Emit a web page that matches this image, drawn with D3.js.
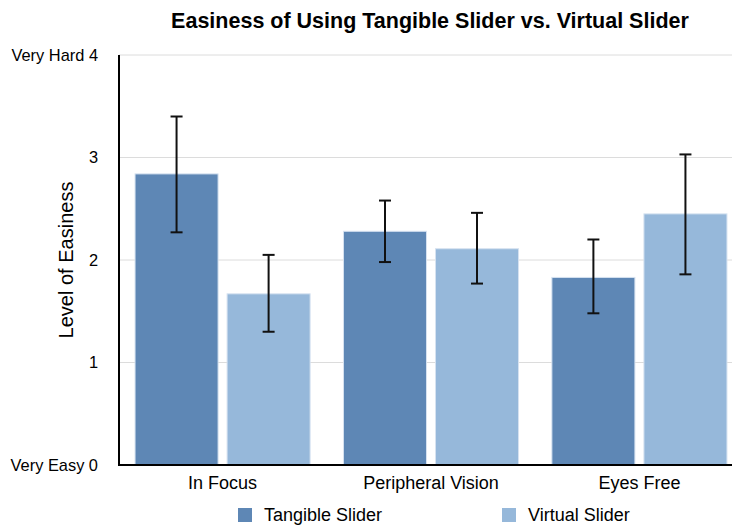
<!DOCTYPE html>
<html><head><meta charset="utf-8">
<script src="https://cdn.jsdelivr.net/npm/d3@7"></script>
<style>body{margin:0;background:#fff;} text{font-family:"Liberation Sans",Arial,Helvetica,sans-serif;}</style>
</head><body>
<svg id="c" width="732" height="529"></svg>
<script>
const categories = ["In Focus", "Peripheral Vision", "Eyes Free"];
const seriesNames = ["Tangible Slider", "Virtual Slider"];
const tangibleMeans = [2.84, 2.28, 1.83];
const tangibleLow = [2.27, 1.98, 1.48];
const tangibleHigh = [3.40, 2.58, 2.20];
const virtualMeans = [1.67, 2.11, 2.45];
const virtualLow = [1.30, 1.77, 1.86];
const virtualHigh = [2.05, 2.46, 3.03];
const yTicks = [0, 1, 2, 3, 4];
const yTickLabels = ["Very Easy 0", "1", "2", "3", "Very Hard 4"];
const colors = ["#5E87B5", "#96B8DA"];

const svg = d3.select("#c");
const mLeft = 119, mRight = 743, mTop = 55, mBottom = 465;
const y = d3.scaleLinear().domain([0, 4]).range([mBottom, mTop]);
const x0 = d3.scaleBand().domain(categories).range([mLeft, mRight]).paddingInner(0.16).paddingOuter(0.077);
const x1 = d3.scaleBand().domain(seriesNames).range([0, x0.bandwidth()]).paddingInner(0.098);

// gridlines
svg.append("g").selectAll("line").data(yTicks.filter(d => d > 0)).join("line")
  .attr("x1", mLeft).attr("x2", 732).attr("y1", d => y(d)).attr("y2", d => y(d))
  .attr("stroke", "#dcdcdc").attr("stroke-width", 1);

const series = [
  {name: seriesNames[0], means: tangibleMeans, lo: tangibleLow, hi: tangibleHigh, color: colors[0]},
  {name: seriesNames[1], means: virtualMeans, lo: virtualLow, hi: virtualHigh, color: colors[1]}
];
const items = [];
series.forEach(s => categories.forEach((c, i) => items.push({c, s: s.name, v: s.means[i], lo: s.lo[i], hi: s.hi[i], color: s.color})));

svg.append("g").selectAll("rect").data(items).join("rect")
  .attr("x", d => x0(d.c) + x1(d.s))
  .attr("y", d => y(d.v))
  .attr("width", x1.bandwidth())
  .attr("height", d => y(0) - y(d.v))
  .attr("fill", d => d.color)
  .attr("stroke", "#d6e2f0").attr("stroke-width", 1);

// error bars
const eb = svg.append("g").attr("stroke", "#111").attr("stroke-width", 2);
items.forEach(d => {
  const cx = x0(d.c) + x1(d.s) + x1.bandwidth() / 2;
  eb.append("line").attr("x1", cx).attr("x2", cx).attr("y1", y(d.hi)).attr("y2", y(d.lo));
  eb.append("line").attr("x1", cx - 6).attr("x2", cx + 6).attr("y1", y(d.hi)).attr("y2", y(d.hi));
  eb.append("line").attr("x1", cx - 6).attr("x2", cx + 6).attr("y1", y(d.lo)).attr("y2", y(d.lo));
});

// axes lines
svg.append("line").attr("x1", mLeft).attr("x2", mLeft).attr("y1", mTop).attr("y2", mBottom + 1)
  .attr("stroke", "#000").attr("stroke-width", 2);
svg.append("line").attr("x1", mLeft - 1).attr("x2", 732).attr("y1", mBottom).attr("y2", mBottom)
  .attr("stroke", "#000").attr("stroke-width", 2);

// y tick labels
svg.append("g").selectAll("text").data(yTicks).join("text")
  .attr("x", 98).attr("y", d => y(d)).attr("dy", "0.35em")
  .attr("text-anchor", "end").attr("font-size", 16.4).attr("fill", "#000")
  .text((d, i) => yTickLabels[i]);

// x labels
svg.append("g").selectAll("text").data(categories).join("text")
  .attr("x", d => x0(d) + x0.bandwidth() / 2).attr("y", 489)
  .attr("text-anchor", "middle").attr("font-size", 18).attr("fill", "#000")
  .text(d => d);

// y label
svg.append("text").attr("transform", "translate(73,260) rotate(-90)")
  .attr("text-anchor", "middle").attr("font-size", 20).attr("fill", "#000")
  .text("Level of Easiness");

// title
svg.append("text").attr("x", 430).attr("y", 28).attr("text-anchor", "middle")
  .attr("font-size", 21.5).attr("font-weight", "bold").attr("fill", "#000")
  .text("Easiness of Using Tangible Slider vs. Virtual Slider");

// legend
const legX = [238, 502];
const lg = svg.append("g").selectAll("g").data(series).join("g")
  .attr("transform", (d, i) => `translate(${legX[i]},508)`);
lg.append("rect").attr("width", 14).attr("height", 14).attr("fill", d => d.color);
lg.append("text").attr("x", 26).attr("y", 7).attr("dy", "0.35em").attr("font-size", 18).attr("fill", "#000").text(d => d.name);
</script>
</body></html>
